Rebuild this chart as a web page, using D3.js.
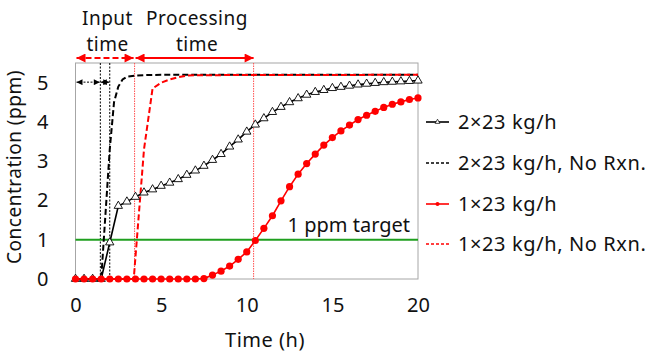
<!DOCTYPE html>
<html>
<head>
<meta charset="utf-8">
<script src="https://cdn.jsdelivr.net/npm/d3@7"></script>
<style>
  body { margin: 0; background: #fff; }
  text { font-family: "Noto Sans", "DejaVu Sans", sans-serif; fill: #111; }
</style>
</head>
<body>
<div id="chart"></div>
<script>
// ---- data ----
var times = d3.range(0, 20.01, 0.5);
var conc2x = [0, 0, 0, 0, 0.93, 1.86, 1.97, 2.09, 2.20, 2.28, 2.37, 2.45, 2.54, 2.65, 2.76, 2.88,
  3.03, 3.18, 3.37, 3.55, 3.75, 3.93, 4.09, 4.25, 4.38, 4.50, 4.60, 4.69, 4.76, 4.81, 4.86,
  4.89, 4.92, 4.95, 4.97, 4.99, 5.01, 5.02, 5.03, 5.04, 5.05];
var conc1x = [0, 0, 0, 0, 0, 0, 0, 0, 0, 0, 0, 0, 0, 0, 0, 0.01, 0.1, 0.2, 0.33, 0.5, 0.69, 0.98,
  1.29, 1.61, 1.99, 2.35, 2.67, 2.94, 3.18, 3.41, 3.60, 3.77, 3.92, 4.06, 4.17, 4.27, 4.37,
  4.45, 4.51, 4.57, 4.61];
var noRxn2xT = [0, 1.5, 2, 2.25, 2.5, 2.75, 3, 3.5, 4, 5, 20];
var noRxn2xC = [0, 0, 3.3, 4.5, 4.9, 5.08, 5.15, 5.18, 5.19, 5.2, 5.2];
var noRxn1xT = [0, 3.4, 4, 4.5, 5, 5.5, 6, 6.5, 7, 20];
var noRxn1xC = [0, 0, 3.3, 4.85, 5.0, 5.08, 5.14, 5.18, 5.19, 5.2];
var xTicks = [0, 5, 10, 15, 20];
var yTicks = [0, 1, 2, 3, 4, 5];
var target = 1;
var inputMarks = [1.45, 2.0];     // black dotted
var phaseMarks = [3.45, 10.4];    // red dotted
var legendLabels = ["2\u00d723 kg/h", "2\u00d723 kg/h, No Rxn.", "1\u00d723 kg/h", "1\u00d723 kg/h, No Rxn."];

// ---- svg ----
var W = 650, H = 354;
var fs = "20px";
var svg = d3.select("#chart").append("svg")
  .attr("width", W).attr("height", H);

var x = d3.scaleLinear().domain([0, 20]).range([75.5, 418]);
var y = d3.scaleLinear().domain([0, 5.5]).range([279, 63]);

var defs = svg.append("defs");
function arrowHead(id, color, w, h) {
  defs.append("marker").attr("id", id)
    .attr("viewBox", "0 0 10 10").attr("refX", 10).attr("refY", 5)
    .attr("markerWidth", w).attr("markerHeight", h)
    .attr("markerUnits", "userSpaceOnUse")
    .attr("orient", "auto-start-reverse")
    .append("path").attr("d", "M0,0L10,5L0,10z").attr("fill", color);
}
arrowHead("arRed", "#ff0000", 11, 9);
arrowHead("arBlk", "#000", 8, 6);

// plot frame
svg.append("rect")
  .attr("x", x(0)).attr("y", y(5.5))
  .attr("width", x(20) - x(0)).attr("height", y(0) - y(5.5))
  .attr("fill", "none").attr("stroke", "#a6a6a6").attr("stroke-width", 1);

// axes (labels only)
var xAxis = svg.append("g").attr("transform", "translate(0," + y(0) + ")")
  .call(d3.axisBottom(x).tickValues(xTicks).tickFormat(d3.format("d")).tickSize(0).tickPadding(19));
var yAxis = svg.append("g").attr("transform", "translate(" + x(0) + ",0)")
  .call(d3.axisLeft(y).tickValues(yTicks).tickFormat(d3.format("d")).tickSize(0).tickPadding(27));
[xAxis, yAxis].forEach(function(a) {
  a.select(".domain").remove();
  a.selectAll("text").attr("font-size", fs).attr("fill", "#111")
    .attr("font-family", "Noto Sans, DejaVu Sans, sans-serif");
});

// reference lines
svg.selectAll("line.inMark").data(inputMarks).enter().append("line")
  .attr("class", "inMark")
  .attr("x1", function(d) { return x(d); }).attr("x2", function(d) { return x(d); })
  .attr("y1", y(5.5)).attr("y2", y(0))
  .attr("stroke", "#000").attr("stroke-width", 1).attr("stroke-dasharray", "2,1.5");
svg.selectAll("line.phMark").data(phaseMarks).enter().append("line")
  .attr("class", "phMark")
  .attr("x1", function(d) { return x(d); }).attr("x2", function(d) { return x(d); })
  .attr("y1", y(5.5)).attr("y2", y(0))
  .attr("stroke", "#ff5050").attr("stroke-width", 1).attr("stroke-dasharray", "1.5,1");

// target line
svg.append("line")
  .attr("x1", x(0)).attr("x2", x(20))
  .attr("y1", y(target)).attr("y2", y(target))
  .attr("stroke", "#1f9f1f").attr("stroke-width", 2);
svg.append("text")
  .attr("x", x(20) - 8).attr("y", y(target) - 8)
  .attr("text-anchor", "end").attr("font-size", fs)
  .text("1 ppm target");

// lines
var line = d3.line()
  .x(function(d) { return x(d[0]); })
  .y(function(d) { return y(d[1]); });

var dash2 = d3.zip(noRxn2xT, noRxn2xC);
var dash1 = d3.zip(noRxn1xT, noRxn1xC);
var solid2 = d3.zip(times, conc2x);
var solid1 = d3.zip(times, conc1x);

svg.append("path").datum(dash2).attr("d", line)
  .attr("fill", "none").attr("stroke", "#000").attr("stroke-width", 2)
  .attr("stroke-dasharray", "6,3");
svg.append("path").datum(dash1).attr("d", line)
  .attr("fill", "none").attr("stroke", "#ff0000").attr("stroke-width", 2)
  .attr("stroke-dasharray", "6,3");

svg.append("path").datum(solid2).attr("d", line)
  .attr("fill", "none").attr("stroke", "#000").attr("stroke-width", 1.6);
var tri = d3.symbol().type(d3.symbolTriangle).size(30);
svg.selectAll("path.tri").data(solid2).enter().append("path")
  .attr("class", "tri")
  .attr("d", tri)
  .attr("transform", function(d) { return "translate(" + x(d[0]) + "," + y(d[1]) + ")"; })
  .attr("fill", "#fff").attr("stroke", "#000").attr("stroke-width", 0.9);

svg.append("path").datum(solid1).attr("d", line)
  .attr("fill", "none").attr("stroke", "#ff0000").attr("stroke-width", 1.6);
svg.selectAll("circle.dot").data(solid1).enter().append("circle")
  .attr("class", "dot")
  .attr("cx", function(d) { return x(d[0]); })
  .attr("cy", function(d) { return y(d[1]); })
  .attr("r", 3.6).attr("fill", "#ff0000");

// time arrows on top
var arrowY = 58;
svg.append("line")
  .attr("x1", x(0) + 1).attr("x2", x(phaseMarks[0]) - 1)
  .attr("y1", arrowY).attr("y2", arrowY)
  .attr("stroke", "#ff0000").attr("stroke-width", 2).attr("stroke-dasharray", "6,3")
  .attr("marker-start", "url(#arRed)").attr("marker-end", "url(#arRed)");
svg.append("line")
  .attr("x1", x(phaseMarks[0]) + 1).attr("x2", x(phaseMarks[1]))
  .attr("y1", arrowY).attr("y2", arrowY)
  .attr("stroke", "#ff0000").attr("stroke-width", 2)
  .attr("marker-start", "url(#arRed)").attr("marker-end", "url(#arRed)");

// black arrows inside plot at 5 ppm
var bY = y(5) - 0.5;
svg.append("line")
  .attr("x1", x(0) + 1).attr("x2", x(inputMarks[0]) - 0.5)
  .attr("y1", bY).attr("y2", bY)
  .attr("stroke", "#000").attr("stroke-width", 1).attr("stroke-dasharray", "2,1.5")
  .attr("marker-start", "url(#arBlk)").attr("marker-end", "url(#arBlk)");
svg.append("line")
  .attr("x1", x(inputMarks[0]) + 0.5).attr("x2", x(inputMarks[1]) - 0.5)
  .attr("y1", bY).attr("y2", bY)
  .attr("stroke", "#000").attr("stroke-width", 1)
  .attr("marker-start", "url(#arBlk)").attr("marker-end", "url(#arBlk)");

// headings
var head = svg.append("g").attr("font-size", "19px").attr("text-anchor", "middle")
  .attr("letter-spacing", "0.5px");
head.append("text").attr("x", 107.5).attr("y", 25).text("Input");
head.append("text").attr("x", 107.5).attr("y", 51).text("time");
head.append("text").attr("x", 197).attr("y", 25).text("Processing");
head.append("text").attr("x", 197).attr("y", 51).text("time");

// axis titles
svg.append("text")
  .attr("transform", "translate(21,167) rotate(-90)")
  .attr("text-anchor", "middle").attr("font-size", "19px").attr("letter-spacing", "0.5px")
  .text("Concentration (ppm)");
svg.append("text")
  .attr("x", 265).attr("y", 347)
  .attr("text-anchor", "middle").attr("font-size", fs).attr("letter-spacing", "0.5px")
  .text("Time (h)");

// legend
var legY = [122, 163, 204, 244];
var leg = svg.append("g");
legendLabels.forEach(function(lbl, i) {
  var g = leg.append("g").attr("transform", "translate(0," + legY[i] + ")");
  var color = (i < 2) ? "#000" : "#ff0000";
  var ln = g.append("line").attr("x1", 426).attr("x2", 449).attr("y1", 0).attr("y2", 0)
    .attr("stroke", color);
  if (i % 2 === 1) {
    ln.attr("stroke-width", 1.5).attr("stroke-dasharray", "3,2");
  } else {
    ln.attr("stroke-width", 1.6);
    if (i === 0) {
      g.append("path").attr("d", d3.symbol().type(d3.symbolTriangle).size(10))
        .attr("transform", "translate(437.5,0)")
        .attr("fill", "#fff").attr("stroke", "#000").attr("stroke-width", 0.7);
    } else {
      g.append("circle").attr("cx", 437.5).attr("cy", 0).attr("r", 2).attr("fill", "#ff0000");
    }
  }
  g.append("text").attr("x", 458).attr("y", 0).attr("dy", "0.35em")
    .attr("font-size", fs).attr("letter-spacing", "0.6px").text(lbl);
});
</script>
</body>
</html>
